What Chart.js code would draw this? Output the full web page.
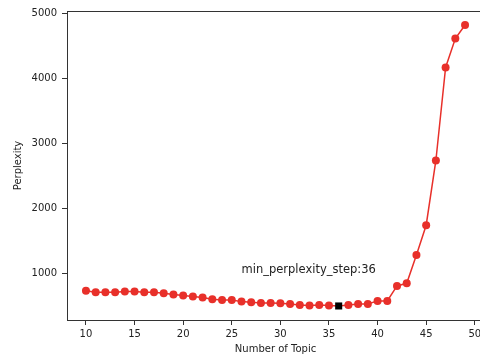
<!DOCTYPE html>
<html>
<head>
<meta charset="utf-8">
<script src="https://cdn.jsdelivr.net/npm/chart.js@4"></script>
<style>
  body { margin: 0; background: #fff; }
  #wrap { width: 480px; height: 359px; overflow: hidden; }
</style>
</head>
<body>
<div id="wrap"><canvas id="grafico" width="490" height="359"></canvas></div>
<script>
// numero de topicos y perplejidad
const topics = [10,11,12,13,14,15,16,17,18,19,20,21,22,23,24,25,26,27,28,29,
                30,31,32,33,34,35,36,37,38,39,40,41,42,43,44,45,46,47,48,49];
const perplexity = [729,704,704,704,714,714,704,704,689,668,653,637,622,596,586,586,560,550,540,540,
                    535,525,509,499,509,499,493,509,525,525,571,571,801,842,1276,1736,2733,4164,4609,4818];
const minStep = 36;
const xTicks = [10,15,20,25,30,35,40,45,50];
const yTicks = [1000,2000,3000,4000,5000];
const xRange = [8.05, 50.95];
const yRange = [277, 5034];
const noteText = 'min_perplexity_step:' + minStep;
const notePos = [26, 1000];

const font = { family: 'DejaVu Sans', size: 10 };
const ink = '#222';
const rojo = '#e8302a';

const marco = {
    id: 'marco',
    afterDraw(chart) {
        const ctx = chart.ctx;
        const a = chart.chartArea;
        ctx.save();
        ctx.strokeStyle = '#333';
        ctx.lineWidth = 1;
        ctx.strokeRect(Math.round(a.left) + 0.5, Math.round(a.top) + 0.5,
                       Math.round(a.right - a.left), Math.round(a.bottom - a.top));
        // texto del minimo
        const x = chart.scales.x.getPixelForValue(notePos[0]);
        const y = chart.scales.y.getPixelForValue(notePos[1]);
        ctx.fillStyle = ink;
        ctx.font = '11.5px "DejaVu Sans"';
        ctx.textAlign = 'left';
        ctx.textBaseline = 'alphabetic';
        ctx.fillText(noteText, x, y);
        ctx.restore();
    }
};

const esMin = i => topics[i] === minStep;

new Chart(document.getElementById('grafico'), {
    type: 'line',
    data: {
        datasets: [{
            data: topics.map((t, i) => ({ x: t, y: perplexity[i] })),
            borderColor: rojo,
            borderWidth: 1.5,
            backgroundColor: rojo,
            pointBackgroundColor: c => esMin(c.dataIndex) ? '#000' : rojo,
            pointBorderWidth: 0,
            pointStyle: c => esMin(c.dataIndex) ? 'rect' : 'circle',
            pointRadius: c => esMin(c.dataIndex) ? 5 : 4,
            pointHoverRadius: c => esMin(c.dataIndex) ? 5 : 4,
            tension: 0
        }]
    },
    options: {
        responsive: false,
        animation: false,
        events: [],
        layout: { padding: { top: 11, right: 6, left: 0, bottom: 0 } },
        plugins: { legend: { display: false }, tooltip: { enabled: false } },
        scales: {
            x: {
                type: 'linear',
                min: xRange[0], max: xRange[1],
                afterBuildTicks: s => { s.ticks = xTicks.map(v => ({ value: v })); },
                afterFit: s => { s.height = 39; },
                grid: { drawOnChartArea: false, tickLength: 5, tickColor: '#333' },
                border: { color: '#333' },
                ticks: { font: font, color: ink, padding: 3, maxRotation: 0, callback: v => String(v) },
                title: { display: true, text: 'Number of Topic', font: font, color: ink, padding: { top: 0, bottom: 4 } }
            },
            y: {
                min: yRange[0], max: yRange[1],
                afterBuildTicks: s => { s.ticks = yTicks.map(v => ({ value: v })); },
                afterFit: s => { s.width = 67; },
                grid: { drawOnChartArea: false, tickLength: 5, tickColor: '#333' },
                border: { color: '#333' },
                ticks: { font: font, color: ink, padding: 5, callback: v => String(v) },
                title: { display: true, text: 'Perplexity', font: font, color: ink, padding: { top: 12, bottom: 0 } }
            }
        }
    },
    plugins: [marco]
});
</script>
</body>
</html>
